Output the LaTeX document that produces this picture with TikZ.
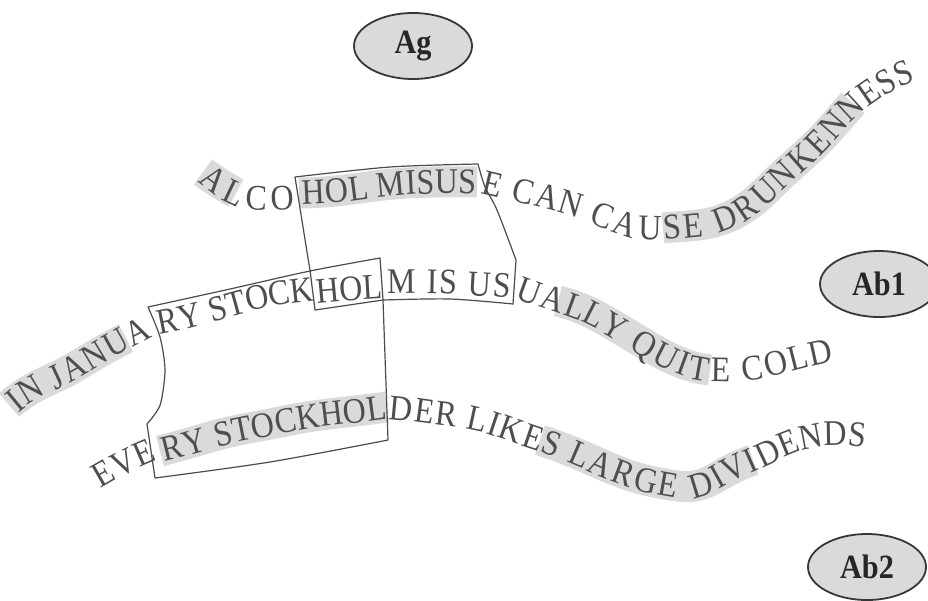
\documentclass[tikz,border=0pt]{standalone}
\usepackage{fontspec}
\setmainfont{Liberation Serif}
\newfontfamily\tallserif[FakeStretch=0.89]{Liberation Serif}
\usetikzlibrary{decorations.text,shapes.geometric,hobby}

\definecolor{ink}{RGB}{78,78,78}
\definecolor{hl}{RGB}{218,218,218}
\definecolor{rim}{RGB}{55,55,55}
\definecolor{edge}{RGB}{75,75,75}
\newcommand\wordfont{\tallserif\fontsize{36}{38}\selectfont}

\begin{document}
\begin{tikzpicture}[x=1pt,y=-1pt,
  band/.style={draw=hl, line width=31pt, line cap=butt, use Hobby shortcut},
  outline/.style={draw=edge, line width=1.2pt, line join=round},
  curvetext/.style={use Hobby shortcut, decorate, decoration={text along path,
      text={|\wordfont|#1}, text align=fit to path, raise=-11.8pt,
      text color=ink}},
  idiotype/.style={ellipse, draw=rim, line width=1.8pt, fill=hl,
      inner sep=0pt, minimum width=118pt, minimum height=66pt,
      font=\tallserif\bfseries\fontsize{34}{36}\selectfont, text=black!85}]

\useasboundingbox (0,0) rectangle (928,600);

% antigen and antibodies
\node[idiotype] (ag)  at (413,46)  {Ag};
\node[idiotype] (ab1) at (879,284) {Ab1};
\node[idiotype] (ab2) at (867,567) {Ab2};

% shaded stretches of the three sentences
\draw[band] (203,172) .. (219,183) .. (236,193);
\draw[band] (299,193) .. (335,191) .. (393,184) .. (432,182) .. (477,182);
\draw[band] (663,228) .. (675,227) .. (710,223) .. (745,208) .. (782,175) .. (818,142) .. (845,112) .. (853,103);

\draw[band] (9,405) .. (35,387) .. (62,374) .. (95,355) .. (126,338);
\draw[band] (558,301) .. (589,312) .. (613,325) .. (643,343) .. (666,356) .. (698,368) .. (710,370);

\draw[band] (160,451) .. (193,442) .. (225,433) .. (265,425) .. (307,417) .. (355,411) .. (387,407);
\draw[band] (540,440) .. (580,455) .. (620,472) .. (645,480) .. (665,484) .. (695,486) .. (728,471) .. (753,460);

% upper frame: HOL MISUS over HOLM IS US
\draw[outline] plot[smooth] coordinates {(295,177) (390,167) (478,164)}
  -- plot[smooth] coordinates {(478,164) (485,187) (497,210) (516,260)}
  -- (513,304)
  -- plot[smooth] coordinates {(513,304) (450,299) (383,300)}
  -- (315,310) -- (310,270) -- (307,252) -- cycle;

% lower frame: RY STOCKHOL over RY STOCKHOL
\draw[outline] plot[smooth] coordinates {(148,307) (230,289) (310,271) (380,258)}
  -- (383,300) -- (388,440)
  -- plot[smooth] coordinates {(388,440) (270,462) (155,478)}
  -- (147,424)
  -- plot[smooth] coordinates {(147,424) (155,414) (161,402) (165,370) (160,337) (148,307)};

% ALCOHOL MISUSE CAN CAUSE DRUNKENNESS
\path[curvetext={ALCO}] (205,172) .. (219,183) .. (236,194) .. (260,198) .. (294,197);
\path[curvetext={HOL MISUS}] (302,193) .. (335,191) .. (393,184) .. (432,182) .. (476,182);
\path[curvetext={E CAN CAUSE DRUNKENNESS}] (483,182) .. (525,192) .. (568,203) .. (603,215) .. (643,228) .. (675,227) .. (710,223) .. (745,208) .. (782,175) .. (818,142) .. (845,112) .. (880,85) .. (912,70);

% IN JANUARY STOCKHOLM IS USUALLY QUITE COLD
\path[curvetext={IN JANUA}] (11,404) .. (35,387) .. (62,374) .. (95,355) .. (148,326);
\path[curvetext={RY STOCK}] (157,323) .. (190,316) .. (222,307) .. (260,297) .. (313,289);
\path[curvetext={HOL}] (316,292) .. (350,289) .. (382,287);
\path[curvetext={M IS US}] (387,282) .. (432,282) .. (482,284) .. (511,286);
\path[curvetext={UALLY QUITE COLD}] (519,287) .. (550,298) .. (589,312) .. (613,325) .. (643,343) .. (666,356) .. (698,368) .. (720,370) .. (754,368) .. (797,358) .. (832,350);

% EVERY STOCKHOLDER LIKES LARGE DIVIDENDS
\path[curvetext={EVE}] (95,478) .. (124,462) .. (153,449);
\path[curvetext={RY STOCKHOL}] (162,450) .. (193,442) .. (225,433) .. (265,425) .. (307,417) .. (355,411) .. (386,407);
\path[curvetext={DER LIKES LARGE DIVIDENDS}] (390,408) .. (420,411) .. (442,414) .. (482,420) .. (512,430) .. (550,443) .. (580,455) .. (620,472) .. (645,480) .. (665,484) .. (695,486) .. (728,471) .. (762,455) .. (803,438) .. (832,434) .. (866,436);

\end{tikzpicture}
\end{document}
